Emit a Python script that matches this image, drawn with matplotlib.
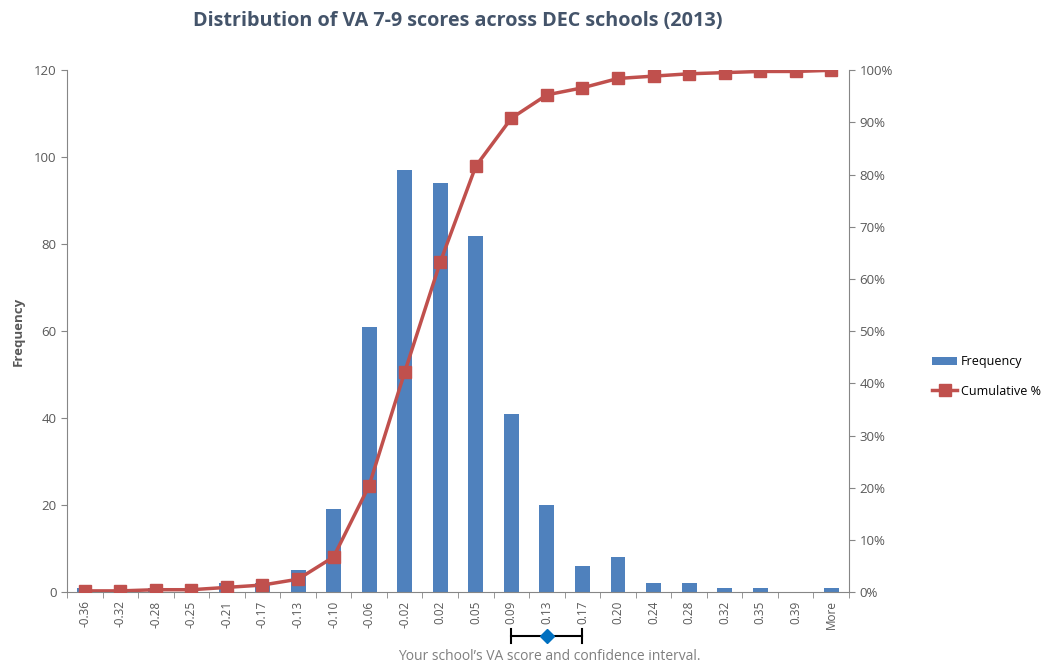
import numpy as np
import matplotlib.pyplot as plt
import matplotlib.transforms as mtransforms
from matplotlib.lines import Line2D
from matplotlib.patches import Patch

# --- data ---------------------------------------------------------------
bins = ["-0.36", "-0.32", "-0.28", "-0.25", "-0.21", "-0.17", "-0.13", "-0.10",
        "-0.06", "-0.02", "0.02", "0.05", "0.09", "0.13", "0.17", "0.20",
        "0.24", "0.28", "0.32", "0.35", "0.39", "More"]
freq = [1, 0, 1, 0, 2, 2, 5, 19, 61, 97, 94, 82, 41, 20, 6, 8, 2, 2, 1, 1, 0, 1]
cum_pct = np.cumsum(freq) / np.sum(freq) * 100

# school's VA score and confidence interval (bin labels)
school_score = "0.13"
ci_low, ci_high = "0.09", "0.17"

BAR = "#4f81bd"
LINE = "#c0504d"
GREY = "#868686"
TXT = "#595959"

plt.rcParams["font.family"] = ["Open Sans", "DejaVu Sans"]

fig = plt.figure(figsize=(10.58, 6.63), dpi=100)
ax = fig.add_axes([0.0633, 0.107, 0.7392, 0.787])
x = np.arange(len(bins))
ax.bar(x, freq, width=0.42, color=BAR, zorder=2)
ax.set_xlim(-0.5, len(bins) - 0.5)
ax.set_ylim(0, 120)
ax.set_yticks(range(0, 121, 20))
ax.set_xticks(x)
ax.set_xticklabels(bins, rotation=90, fontsize=8.5, color=TXT)
ax.set_xticks(np.arange(-0.5, len(bins), 1), minor=True)
ax.tick_params(axis="x", which="major", length=0, pad=6)
ax.tick_params(axis="x", which="minor", length=4, color=GREY)
ax.tick_params(axis="y", length=4, color=GREY, labelsize=9.5, labelcolor=TXT)
for s in ["top", "right"]:
    ax.spines[s].set_visible(False)
for s in ["left", "bottom"]:
    ax.spines[s].set_color(GREY)
fig.text(0.017, 0.5, "Frequency", rotation=90, ha="center", va="center",
         fontsize=9.5, fontweight="bold", color=TXT)

ax2 = ax.twinx()
ax2.plot(x, cum_pct, color=LINE, lw=2.5, marker="s", markersize=8, zorder=3)
ax2.set_ylim(0, 100)
ax2.set_yticks(range(0, 101, 10))
ax2.set_yticklabels([f"{v}%" for v in range(0, 101, 10)])
ax2.tick_params(axis="y", length=4, color=GREY, labelsize=9.5, labelcolor=TXT)
for s in ["top", "left", "bottom"]:
    ax2.spines[s].set_visible(False)
ax2.spines["right"].set_color(GREY)

fig.suptitle("Distribution of VA 7-9 scores across DEC schools (2013)",
             x=0.433, y=0.984, fontsize=14.2, fontweight="bold", color="#44546a")

handles = [Patch(facecolor=BAR, label="Frequency"),
           Line2D([0], [0], color=LINE, lw=2.5, marker="s", markersize=8, label="Cumulative %")]
fig.legend(handles=handles, loc="center left", bbox_to_anchor=(0.881, 0.432),
           frameon=False, fontsize=9, handlelength=2.0, handletextpad=0.3,
           labelspacing=1.3, borderaxespad=0, borderpad=0)

# confidence interval marker under the axis
trans = mtransforms.blended_transform_factory(ax.transData, fig.transFigure)
i_lo, i_hi, i_s = bins.index(ci_low), bins.index(ci_high), bins.index(school_score)
ci_y = 1 - 636 / 663
ax.plot([i_lo, i_hi], [ci_y, ci_y], color="black", lw=1.5, transform=trans, clip_on=False)
for i in (i_lo, i_hi):
    ax.plot([i, i], [ci_y - 0.01, ci_y + 0.01], color="black", lw=1.5,
            transform=trans, clip_on=False)
ax.plot([i_s], [ci_y], marker="D", color="#0070c0", markersize=7,
        transform=trans, clip_on=False)
fig.text(0.519, 1 - 656 / 663, "Your school\u2019s VA score and confidence interval.",
         ha="center", va="center", fontsize=10, color="#7f7f7f")

fig.savefig("out.png", dpi=100)
